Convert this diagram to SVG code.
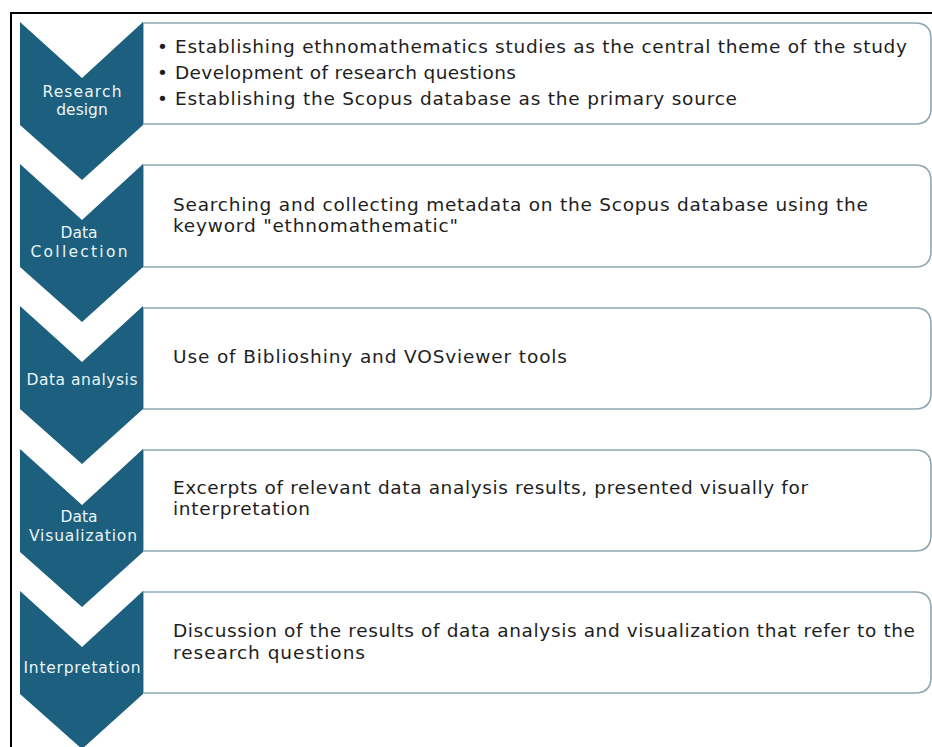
<svg xmlns="http://www.w3.org/2000/svg" width="932" height="747" viewBox="0 0 932 747">
  <style>
    .chev { fill: #1d5f7e; }
    .box { fill: #ffffff; stroke: #8ea6b1; stroke-width: 1.6; }
    .lbl { font-family: "DejaVu Sans", "Liberation Sans", sans-serif; font-size: 15.5px; fill: #eaf5f8; text-anchor: middle; }
    .txt { font-family: "DejaVu Sans", "Liberation Sans", sans-serif; font-size: 18.5px; fill: #1e1e1e; }
    .frame { fill: none; stroke: #000000; stroke-width: 2; }
  </style>

  <rect width="932" height="747" fill="#ffffff"/>
  <path class="frame" d="M933,13 H11 V748"/>

  <!-- step 1 -->
  <g id="step-research-design">
    <path class="box" d="M143,23 H915 Q931,23 931,39 V108 Q931,124 915,124 H143 Z"/>
    <path class="chev" d="M20,22 L82,78 L143,22 V125 L82,180 L20,125 Z"/>
    <text class="lbl" x="82" y="97" textLength="79">Research</text>
    <text class="lbl" x="82" y="115">design</text>
    <text class="txt" x="157" y="53">•</text>
    <text class="txt" x="175" y="53" textLength="732">Establishing ethnomathematics studies as the central theme of the study</text>
    <text class="txt" x="157" y="79">•</text>
    <text class="txt" x="175" y="79" textLength="341">Development of research questions</text>
    <text class="txt" x="157" y="105">•</text>
    <text class="txt" x="175" y="105" textLength="562">Establishing the Scopus database as the primary source</text>
  </g>

  <!-- step 2 -->
  <g id="step-data-collection">
    <path class="box" d="M143,165 H915 Q931,165 931,181 V251 Q931,267 915,267 H143 Z"/>
    <path class="chev" d="M20,164 L82,220 L143,164 V267 L82,322 L20,267 Z"/>
    <text class="lbl" x="79" y="238">Data</text>
    <text class="lbl" x="79" y="257" textLength="97">Collection</text>
    <text class="txt" x="173" y="211" textLength="695">Searching and collecting metadata on the Scopus database using the</text>
    <text class="txt" x="173" y="232" textLength="285">keyword "ethnomathematic"</text>
  </g>

  <!-- step 3 -->
  <g id="step-data-analysis">
    <path class="box" d="M143,308 H915 Q931,308 931,324 V393 Q931,409 915,409 H143 Z"/>
    <path class="chev" d="M20,306 L82,362 L143,306 V409 L82,464 L20,409 Z"/>
    <text class="lbl" x="82" y="385" textLength="111">Data analysis</text>
    <text class="txt" x="173" y="363" textLength="394">Use of Biblioshiny and VOSviewer tools</text>
  </g>

  <!-- step 4 -->
  <g id="step-data-visualization">
    <path class="box" d="M143,450 H915 Q931,450 931,466 V535 Q931,551 915,551 H143 Z"/>
    <path class="chev" d="M20,449 L82,505 L143,449 V552 L82,607 L20,552 Z"/>
    <text class="lbl" x="79" y="522">Data</text>
    <text class="lbl" x="83" y="541" textLength="108">Visualization</text>
    <text class="txt" x="173" y="494" textLength="635">Excerpts of relevant data analysis results, presented visually for</text>
    <text class="txt" x="173" y="515" textLength="137">interpretation</text>
  </g>

  <!-- step 5 -->
  <g id="step-interpretation">
    <path class="box" d="M143,592 H915 Q931,592 931,608 V677 Q931,693 915,693 H143 Z"/>
    <path class="chev" d="M20,591 L82,647 L143,591 V694 L82,749 L20,694 Z"/>
    <text class="lbl" x="82" y="673" textLength="117">Interpretation</text>
    <text class="txt" x="173" y="637" textLength="742">Discussion of the results of data analysis and visualization that refer to the</text>
    <text class="txt" x="173" y="659" textLength="192">research questions</text>
  </g>

  <g id="connectors"></g>
</svg>
